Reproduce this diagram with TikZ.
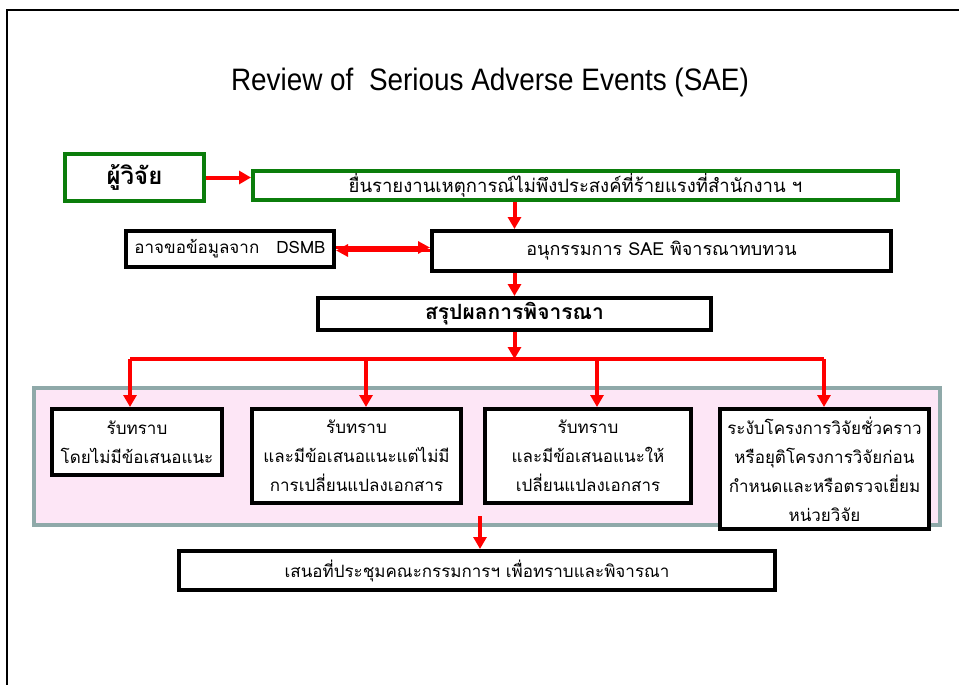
\documentclass[tikz,border=0pt]{standalone}
\usepackage{fontspec}
\setmainfont{Liberation Sans}
\newfontfamily\thai[Script=Thai]{Loma}
\usetikzlibrary{arrows.meta}
\definecolor{boxgreen}{HTML}{0B7D0B}
\definecolor{panelfill}{HTML}{FDE6F6}
\definecolor{panelline}{HTML}{8FA9A9}
\begin{document}
\begin{tikzpicture}[x=1pt,y=-1pt,
  box/.style={draw=black, line width=4pt, fill=white, inner sep=0pt, align=center,
    font=\thai\fontsize{17}{29}\selectfont},
  greenbox/.style={box, draw=boxgreen},
  panel/.style={draw=panelline, line width=4pt, fill=panelfill, inner sep=0pt},
  redline/.style={draw=red, line width=4pt},
  arr/.style={redline, -{Triangle[length=12pt,width=13pt]}},
  thinarr/.style={draw=red, line width=3pt, -{Triangle[length=12pt,width=12pt]}},
  frame/.style={draw=black, line width=2pt}]
\useasboundingbox (0,0) rectangle (959,685);
\fill[white] (0,0) rectangle (959,685);
% outer frame
\coordinate (fa) at (7,690);
\coordinate (fb) at (7,10);
\coordinate (fc) at (965,10);
\draw[frame] (fa) -- (fb) -- (fc);
% title
\node[font=\fontsize{31}{34}\selectfont] (title) at (490,82) {\scalebox{0.9}[1]{Review of\ \ Serious Adverse Events (SAE)}};
% top row
\node[greenbox, font=\thai\bfseries\fontsize{24}{28}\selectfont, minimum width=139pt, minimum height=47pt] (researcher) at (134.5,177.5) {ผู้วิจัย};
\node[greenbox, font=\thai\fontsize{18.5}{29}\selectfont, minimum width=645pt, minimum height=29pt] (submit) at (575.5,185.5) {ยื่นรายงานเหตุการณ์ไม่พึงประสงค์ที่ร้ายแรงที่สำนักงาน ฯ};
\node[box, minimum width=208pt, minimum height=36pt] (dsmb) at (230,249) {อาจขอข้อมูลจาก\ \ \ DSMB};
\node[box, font=\thai\fontsize{18}{29}\selectfont, minimum width=459pt, minimum height=40pt] (sae) at (661.5,251) {อนุกรรมการ SAE พิจารณาทบทวน};
\node[box, font=\thai\bfseries\fontsize{21}{24}\selectfont, minimum width=393pt, minimum height=32pt] (summary) at (514.5,314) {สรุปผลการพิจารณา};
% panel and outcome boxes
\node[panel, minimum width=906pt, minimum height=137pt] (panel) at (487,456.5) {};
\node[box, minimum width=170pt, minimum height=66pt] (b1) at (137,442) {รับทราบ\\โดยไม่มีข้อเสนอแนะ};
\node[box, minimum width=209pt, minimum height=94pt] (b2) at (356.5,456) {รับทราบ\\และมีข้อเสนอแนะแต่ไม่มี\\การเปลี่ยนแปลงเอกสาร};
\node[box, minimum width=206pt, minimum height=94pt] (b3) at (588,456) {รับทราบ\\และมีข้อเสนอแนะให้\\เปลี่ยนแปลงเอกสาร};
\node[box, minimum width=209pt, minimum height=120pt] (b4) at (824.5,469) {ระงับโครงการวิจัยชั่วคราว\\หรือยุติโครงการวิจัยก่อน\\กำหนดและหรือตรวจเยี่ยม\\หน่วยวิจัย};
\node[box, minimum width=596pt, minimum height=39pt] (final) at (477,570.5) {เสนอที่ประชุมคณะกรรมการฯ เพื่อทราบและพิจารณา};
% connectors
\draw[arr] (researcher.east) -- (researcher.east -| submit.west);
\draw[arr] (submit.south -| summary.north) -- (sae.north -| summary.north);
\draw[thinarr] ([yshift=1.5pt]dsmb.east) -- ([yshift=1.5pt]dsmb.east -| sae.west);
\draw[thinarr] ([yshift=-1.5pt]dsmb.east -| sae.west) -- ([yshift=-1.5pt]dsmb.east);
\draw[arr] (sae.south -| summary.north) -- (summary.north);
\coordinate (split) at (514.5,359);
\coordinate (c1) at (130,359);
\coordinate (c2) at (366,359);
\coordinate (c3) at (597,359);
\coordinate (c4) at (824,359);
\draw[arr] (summary.south) -- (split);
\draw[redline] (c1) -- (c4);
\draw[arr] (c1) -- (c1 |- b1.north);
\draw[arr] (c2) -- (c2 |- b2.north);
\draw[arr] (c3) -- (c3 |- b3.north);
\draw[arr] (c4) -- (c4 |- b4.north);
\coordinate (p) at (480,516);
\draw[arr] (p) -- (p |- final.north);
\end{tikzpicture}
\end{document}
